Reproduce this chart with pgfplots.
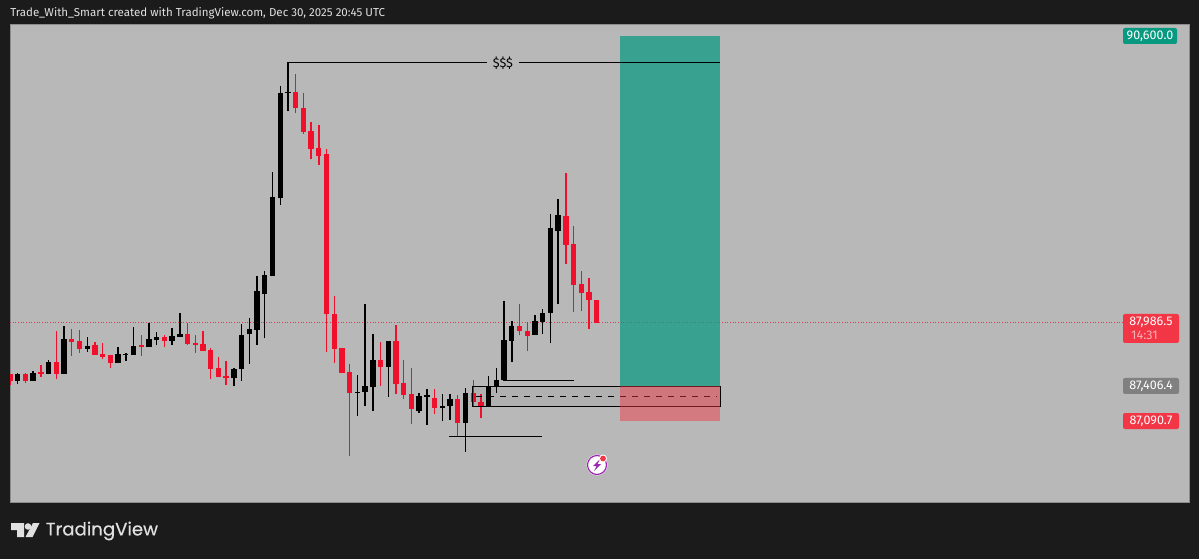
\documentclass[border=0pt]{standalone}
\usepackage{fontspec}
\setmainfont{Fira Sans}
\newfontfamily\logofont[FakeBold=0.4]{Poppins}
\usepackage{pgfplots}
\usepackage{pgfplotstable}
\pgfplotsset{compat=1.18}

\definecolor{frame}{HTML}{1B1B1B}
\definecolor{panel}{HTML}{B8B8B8}
\definecolor{edge}{HTML}{8C8C8C}
\definecolor{bear}{HTML}{F0102B}
\definecolor{tagred}{HTML}{F23645}
\definecolor{tagteal}{HTML}{089981}
\definecolor{taggrey}{HTML}{808080}
\definecolor{bolt}{HTML}{9C27B0}

% bullish candles
\pgfplotstableread{
i o h l c
1 87458 87528 87427 87519
3 87458 87546 87455 87531
5 87516 87646 87516 87631
7 87521 87956 87521 87838
10 87747 87859 87722 87777
14 87619 87762 87619 87701
15 87695 87707 87640 87704
16 87695 87950 87695 87777
18 87762 87986 87762 87835
19 87831 87902 87780 87856
21 87819 87935 87780 87865
22 87856 88077 87856 87883
29 87482 87576 87409 87564
30 87560 87975 87458 87874
31 87881 88026 87610 87926
32 87920 88412 87783 88275
33 88251 88460 87844 88421
34 88412 89363 88412 89129
35 89120 90144 89059 90078
36 90078 90356 89916 90092
45 87346 87507 87139 87357
46 87355 88157 87224 87409
47 87403 87883 87184 87644
49 87585 87819 87312 87819
53 87181 87348 87166 87318
54 87312 87385 87057 87325
56 87211 87334 87088 87230
57 87227 87336 87099 87291
59 87072 87391 86808 87343
62 87221 87500 87221 87403
63 87409 87571 87346 87464
64 87464 88187 87464 87829
65 87819 87999 87628 87956
68 87874 88059 87874 87999
69 87993 88108 87883 88077
70 88072 88974 87798 88847
71 88822 89111 88157 88965
}\upcandles

% bearish candles
\pgfplotstableread{
i o h l c
0 87519 87519 87418 87458
2 87519 87528 87437 87458
4 87537 87601 87491 87521
6 87631 87913 87470 87521
8 87838 87926 87685 87813
9 87819 87920 87713 87747
11 87780 87810 87695 87695
12 87701 87804 87655 87671
13 87689 87695 87573 87619
17 87780 87871 87685 87768
20 87856 87871 87768 87819
23 87883 87981 87786 87795
24 87804 87874 87713 87780
25 87789 87911 87728 87728
26 87740 87753 87476 87567
27 87571 87676 87491 87491
28 87498 87637 87421 87480
37 90092 90253 89895 89941
38 89946 90083 89709 89722
39 89737 89819 89476 89570
40 89579 89786 89427 89509
41 89521 89570 87722 88063
42 88066 88230 87616 87747
43 87756 87760 87531 87531
44 87537 87610 86774 87346
48 87644 87808 87412 87585
50 87822 87965 87336 87430
51 87437 87644 87293 87327
52 87334 87571 87066 87200
55 87300 87385 87154 87209
58 87293 87327 86953 87072
60 87343 87464 87221 87263
61 87266 87334 87115 87221
66 87956 88154 87877 87908
67 87913 87995 87731 87868
72 88962 89348 88521 88695
73 88701 88868 88087 88330
74 88336 88460 88096 88257
75 88263 88391 87926 88193
76 88193 88193 87986 87986
}\downcandles

% price tag: x0, y0, x1, y1 in reference pixels, fill colour, text
\newcommand{\pricetag}[6]{%
  \fill[#5, rounded corners=1.5] (#1,#2) rectangle (#3,#4);
  \node[text=white, font=\fontsize{9.4pt}{10pt}\selectfont, inner sep=0pt] at ({(#1+#3)/2},{#2+8}) {#6};
}

\begin{document}
\begin{tikzpicture}[x=0.75pt, y=-0.75pt]
\fill[frame] (0,0) rectangle (1199,559);

\node[anchor=west, text=white!88!black, font=\fontsize{8.65pt}{10pt}\selectfont, inner sep=0pt]
  at (10,13.5) {Trade\_With\_Smart created with TradingView.com, Dec 30, 2025 20:45 UTC};

\begin{axis}[
    at={(7.5pt,-376.5pt)}, anchor=south west,
    scale only axis,
    width=884.25pt, height=357.75pt,
    xmin=0, xmax=152.72,
    ymin=86352, ymax=90700,
    xtick=\empty, ytick=\empty,
    axis line style={draw=edge, line width=0.75pt},
    axis background/.style={fill=panel},
    candle/.style={draw=none, mark=none, forget plot, error bars/.cd, y dir=plus, y explicit,
      error mark=none, error bar style={#1}},
]
  % last price
  \addplot[color=bear!75!panel, line width=0.5pt, dash pattern=on 0.8pt off 1.2pt, forget plot]
    coordinates {(0,87986.5) (144.2,87986.5)};

  % wicks and bodies
  \addplot[candle={black, line width=1.05pt}]
    table[x=i, y=l, y error plus expr=\thisrow{h}-\thisrow{l}] {\upcandles};
  \addplot[candle={black, line width=4pt}]
    table[x=i, y=o, y error plus expr=\thisrow{c}-\thisrow{o}] {\upcandles};
  \addplot[candle={bear, line width=1.05pt}]
    table[x=i, y=l, y error plus expr=\thisrow{h}-\thisrow{l}] {\downcandles};
  \addplot[candle={bear, line width=4pt}]
    table[x=i, y=c, y error plus expr=\thisrow{o}-\thisrow{c}] {\downcandles};

  % drawn levels
  \addplot[black, line width=0.85pt] coordinates {(63.9,87459) (73.06,87459)};
  \addplot[black, line width=0.85pt] coordinates {(56.87,86953) (68.9,86953)};
  \addplot[fill=black, fill opacity=0.04, draw=black, line width=0.75pt]
    coordinates {(59.97,87409) (91.97,87409) (91.97,87222) (59.97,87222)} -- cycle;
  \addplot[black, line width=0.6pt, dash pattern=on 4.5pt off 4.5pt]
    coordinates {(60.4,87315) (91.5,87315)};

  % long position
  \addplot[fill=tagteal, fill opacity=0.72, draw=none]
    coordinates {(79.02,90600) (91.97,90600) (91.97,87406.4) (79.02,87406.4)} -- cycle;
  \addplot[fill=tagred, fill opacity=0.47, draw=none]
    coordinates {(79.02,87406.4) (91.97,87406.4) (91.97,87090.7) (79.02,87090.7)} -- cycle;

  % liquidity line
  \addplot[black, line width=0.75pt] coordinates {(36,89916) (36,90354) (61.8,90354)};
  \addplot[black, line width=0.75pt] coordinates {(65.9,90354) (91.97,90354)};
  \node[text=black, font=\fontsize{9.6pt}{10pt}\selectfont] at (axis cs:63.85,90354) {\$\$\$};
\end{axis}

% price scale tags
\pricetag{1123}{28}{1177}{44}{tagteal}{90,600.0}
\fill[tagred, rounded corners=1.5] (1123,314) rectangle (1179,343);
\node[text=white, font=\fontsize{9.4pt}{10pt}\selectfont, inner sep=0pt] at (1151,322) {87,986.5};
\node[text=white!60!tagred, font=\fontsize{9.4pt}{10pt}\selectfont, inner sep=0pt] at (1144.5,335.5) {14:31};
\pricetag{1123}{378}{1179}{394}{taggrey}{87,406.4}
\pricetag{1123}{413}{1179}{429}{tagred}{87,090.7}

% bolt badge
\fill[white] (597,465) circle (10.5);
\draw[bolt, line width=0.9pt] (597,465) circle (9.5);
\fill[bolt] (600,459) -- (593,466) -- (596.5,466) -- (594,471) -- (601,464) -- (597.5,464) -- cycle;
\fill[white] (603,458.5) circle (4);
\fill[tagred] (603,458.5) circle (2.9);

% logo
\fill[white!88!black] (11,523) -- (24,523) -- (24,537) -- (17,537) -- (17,530) -- (11,530) -- cycle;
\fill[white!88!black] (28,526.5) circle (3.3);
\fill[white!88!black] (33,523) -- (39.5,523) -- (32.5,537) -- (25.5,537) -- cycle;
\node[anchor=west, text=white!88!black, inner sep=0pt, font=\logofont\fontsize{13.6pt}{16pt}\selectfont]
  at (45.5,531) {TradingView};
\end{tikzpicture}
\end{document}
